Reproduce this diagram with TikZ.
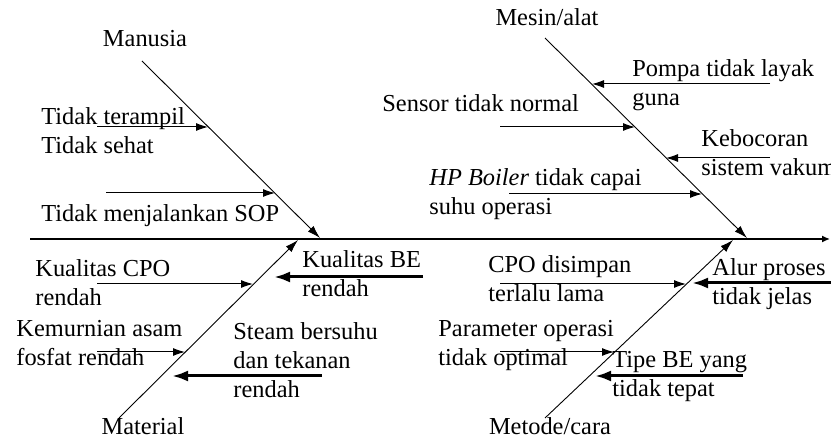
\documentclass[tikz,border=0pt]{standalone}
\usepackage{fontspec}
\setmainfont{Liberation Serif}
\usepackage{tikz}
\usetikzlibrary{arrows.meta}

\begin{document}
\begin{tikzpicture} [
    x=0.5pt, y=-0.5pt,
    every node/.style = {inner sep=0pt, font=\fontsize{12.2}{14.6}\selectfont, align=left},
    cause/.style = {anchor=base west},
    category/.style = {anchor=base},
    spine/.style = {line width=0.7pt, -{Latex[length=4pt, width=3.5pt]}},
    bone/.style = {line width=0.45pt, -{Latex[length=6.5pt, width=4pt]}},
    sub/.style = {line width=0.5pt, -{Latex[length=6pt, width=4pt]}},
    heavy/.style = {line width=1.5pt, -{Latex[length=8pt, width=5.5pt]}}
]
    \useasboundingbox (0,0) rectangle (831,438);

    % spine
    \coordinate (tail) at (30,239);
    \coordinate (effect) at (830,239);
    \draw[spine] (tail) -- (effect);

    % categories
    \node[category] (manusia) at (145,47) {Manusia};
    \node[category] (mesin) at (547,26) {Mesin/alat};
    \node[category] (material) at (143,435) {Material};
    \node[category] (metode) at (550,435) {Metode/cara};

    \coordinate (manA) at (142,61);   \coordinate (manB) at (320,238);
    \coordinate (mesA) at (545,38);   \coordinate (mesB) at (747,238);
    \coordinate (matA) at (119,418);  \coordinate (matB) at (298,240);
    \coordinate (metA) at (545,418);  \coordinate (metB) at (733,240);
    \draw[bone] (manA) -- (manB);
    \draw[bone] (mesA) -- (mesB);
    \draw[bone] (matA) -- (matB);
    \draw[bone] (metA) -- (metB);

    % Manusia (multi-line causes sit on their last line)
    \node[cause] (terampil) at (41,154) {Tidak terampil\\Tidak sehat};
    \node[cause] (sop) at (41,222) {Tidak menjalankan SOP};
    \coordinate (man1s) at (97,127);  \coordinate (man1e) at (208,127);
    \coordinate (man2s) at (106,193); \coordinate (man2e) at (275,193);
    \draw[sub] (man1s) -- (man1e);
    \draw[sub] (man2s) -- (man2e);

    % Mesin/alat
    \node[cause] (pompa) at (632,106) {Pompa tidak layak\\guna};
    \node[cause] (sensor) at (382,112) {Sensor tidak normal};
    \node[cause] (bocor) at (701,176) {Kebocoran\\sistem vakum};
    \node[cause] (boiler) at (429,215) {\textit{HP Boiler} tidak capai\\suhu operasi};
    \coordinate (mes1s) at (770,84);  \coordinate (mes1e) at (592,84);
    \coordinate (mes2s) at (500,127); \coordinate (mes2e) at (635,127);
    \coordinate (mes3s) at (770,158); \coordinate (mes3e) at (666,158);
    \coordinate (mes4s) at (509,194); \coordinate (mes4e) at (702,194);
    \draw[sub] (mes1s) -- (mes1e);
    \draw[sub] (mes2s) -- (mes2e);
    \draw[sub] (mes3s) -- (mes3e);
    \draw[sub] (mes4s) -- (mes4e);

    % Material
    \node[cause] (cpo) at (35,306) {Kualitas CPO\\rendah};
    \node[cause] (fosfat) at (16,366) {Kemurnian asam\\fosfat rendah};
    \node[cause] (be) at (302,297) {Kualitas BE\\rendah};
    \node[cause] (steam) at (233,398) {Steam bersuhu\\dan tekanan\\rendah};
    \coordinate (mat1s) at (97,284);  \coordinate (mat1e) at (253,284);
    \coordinate (mat2s) at (97,352);  \coordinate (mat2e) at (185,352);
    \coordinate (mat3s) at (423,277); \coordinate (mat3e) at (274,277);
    \coordinate (mat4s) at (322,376); \coordinate (mat4e) at (172,376);
    \draw[sub] (mat1s) -- (mat1e);
    \draw[sub] (mat2s) -- (mat2e);
    \draw[heavy] (mat3s) -- (mat3e);
    \draw[heavy] (mat4s) -- (mat4e);

    % Metode/cara
    \node[cause] (simpan) at (488,302) {CPO disimpan\\terlalu lama};
    \node[cause] (param) at (438,366) {Parameter operasi\\tidak optimal};
    \node[cause] (alur) at (712,305) {Alur proses\\tidak jelas};
    \node[cause] (tipe) at (612,397) {Tipe BE yang\\tidak tepat};
    \coordinate (met1s) at (500,284); \coordinate (met1e) at (686,284);
    \coordinate (met2s) at (500,352); \coordinate (met2e) at (614,352);
    \coordinate (met3s) at (835,283); \coordinate (met3e) at (692,283);
    \coordinate (met4s) at (743,376); \coordinate (met4e) at (595,376);
    \draw[sub] (met1s) -- (met1e);
    \draw[sub] (met2s) -- (met2e);
    \draw[heavy] (met3s) -- (met3e);
    \draw[heavy] (met4s) -- (met4e);
\end{tikzpicture}
\end{document}
